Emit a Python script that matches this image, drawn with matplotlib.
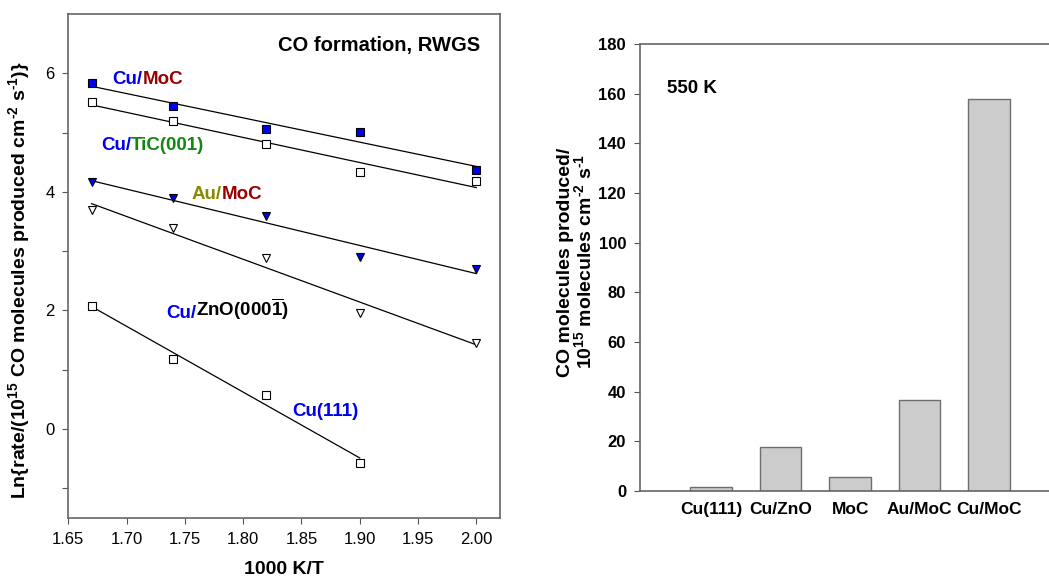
import numpy as np
import matplotlib
matplotlib.use("Agg")
import matplotlib.pyplot as plt

plt.rcParams['font.family'] = ['Liberation Sans', 'DejaVu Sans']
plt.rcParams['mathtext.fontset'] = 'custom'
plt.rcParams['mathtext.rm'] = 'Liberation Sans:bold'
plt.rcParams['mathtext.bf'] = 'Liberation Sans:bold'
plt.rcParams['mathtext.default'] = 'bf'

# Arrhenius data (1000 K/T vs ln rate)
invT = [1.67, 1.74, 1.82, 1.90, 2.00]
cu_moc = [5.83, 5.44, 5.06, 5.01, 4.37]
cu_tic = [5.51, 5.20, 4.80, 4.34, 4.19]
au_moc = [4.16, 3.89, 3.59, 2.90, 2.70]
cu_zno = [3.69, 3.39, 2.89, 1.96, 1.45]
invT_cu111 = [1.67, 1.74, 1.82, 1.90]
cu111 = [2.08, 1.18, 0.58, -0.57]

# bar chart at 550 K
catalysts = ['Cu(111)', 'Cu/ZnO', 'MoC', 'Au/MoC', 'Cu/MoC']
rates_550 = [1.7, 17.7, 5.5, 36.8, 157.7]

BLUE = '#0000ee'
RED = '#990000'
GREEN = '#118811'
OLIVE = '#8a8a00'

fig = plt.figure(figsize=(10.49, 5.82), dpi=100)

# ---- left panel ----
ax = fig.add_axes([68.3 / 1049, 64 / 582, 432 / 1049, 504 / 582])
series = [
    (invT, cu_moc, 's', BLUE),
    (invT, cu_tic, 's', 'white'),
    (invT, au_moc, 'v', BLUE),
    (invT, cu_zno, 'v', 'white'),
    (invT_cu111, cu111, 's', 'white'),
]
for xs, ys, mk, fc in series:
    xs = np.array(xs)
    ys = np.array(ys)
    k, b = np.polyfit(xs, ys, 1)
    xl = np.array([xs.min(), xs.max()])
    ax.plot(xl, k * xl + b, color='black', lw=0.9, zorder=2)
    ax.plot(xs, ys, linestyle='none', marker=mk, markersize=6,
            markerfacecolor=fc, markeredgecolor='black', markeredgewidth=0.8, zorder=3)

ax.set_xlim(1.65, 2.0206)
ax.set_ylim(-1.5, 7)
ax.set_xticks([1.65, 1.70, 1.75, 1.80, 1.85, 1.90, 1.95, 2.00])
ax.set_xticklabels(['1.65', '1.70', '1.75', '1.80', '1.85', '1.90', '1.95', '2.00'])
ax.set_yticks([-1, 0, 1, 2, 3, 4, 5, 6])
ax.set_yticklabels(['', '0', '', '2', '', '4', '', '6'])
ax.tick_params(labelsize=12, length=4, width=0.8, color='#555555', pad=6)
for s in ax.spines.values():
    s.set_color('#666666')
    s.set_linewidth(1.2)
ax.set_xlabel('1000 K/T', fontsize=14, fontweight='bold', labelpad=10)
fig.text(19 / 1049, 1 - 280 / 582,
         r'Ln{rate/(10$^{15}$ CO molecules produced cm$^{\text{-}2}$ s$^{\text{-}1}$)}',
         rotation=90, fontsize=14, fontweight='bold', ha='center', va='center')

ax.text(2.003, 6.47, 'CO formation, RWGS', fontsize=14.5, fontweight='bold',
        ha='right', va='center')


def two_color(x, y, parts):
    prev = None
    for txt, col in parts:
        if prev is None:
            prev = ax.text(x, y, txt, color=col, fontsize=13.5, fontweight='bold',
                           ha='left', va='baseline')
        else:
            prev = ax.annotate(txt, xy=(1, 0), xycoords=prev, color=col, fontsize=13.5,
                               fontweight='bold', ha='left', va='bottom')
    return prev


two_color(1.688, 5.82, [('Cu/', BLUE), ('MoC', RED)])
two_color(1.678, 4.70, [('Cu/', BLUE), ('TiC(001)', GREEN)])
two_color(1.756, 3.88, [('Au/', OLIVE), ('MoC', RED)])
two_color(1.734, 1.88, [('Cu/', BLUE), (r'ZnO(000$\overline{1}$)', 'black')])
two_color(1.842, 0.22, [('Cu(111)', BLUE)])

# ---- right panel ----
bx = fig.add_axes([640 / 1049, 91 / 582, 409 / 1049, 447 / 582])
pos = np.arange(len(catalysts))
bx.bar(pos, rates_550, width=0.6, color='#cccccc', edgecolor='#6e6e6e', linewidth=1.0)
bx.set_xlim(-1.02, 4.86)
bx.set_ylim(0, 180)
bx.set_yticks(np.arange(0, 181, 20))
bx.set_xticks(pos)
bx.set_xticklabels(catalysts, fontsize=12.5, fontweight='bold')
bx.tick_params(axis='x', length=0, pad=8)
bx.tick_params(axis='y', labelsize=12, length=4, width=0.8, color='#555555', pad=6)
for lab in bx.get_yticklabels():
    lab.set_fontweight('bold')
bx.spines['right'].set_visible(False)
for s in ['left', 'top', 'bottom']:
    bx.spines[s].set_color('#666666')
    bx.spines[s].set_linewidth(1.2)
bx.text(0.067, 0.90, '550 K', transform=bx.transAxes, fontsize=13.5, fontweight='bold',
        ha='left', va='center')
fig.text(576 / 1049, 1 - 262 / 582,
         'CO molecules produced/\n10$^{15}$ molecules cm$^{\\text{-}2}$ s$^{\\text{-}1}$',
         rotation=90, fontsize=14, fontweight='bold', ha='center', va='center',
         linespacing=1.0)

fig.savefig('out.png', dpi=100)
